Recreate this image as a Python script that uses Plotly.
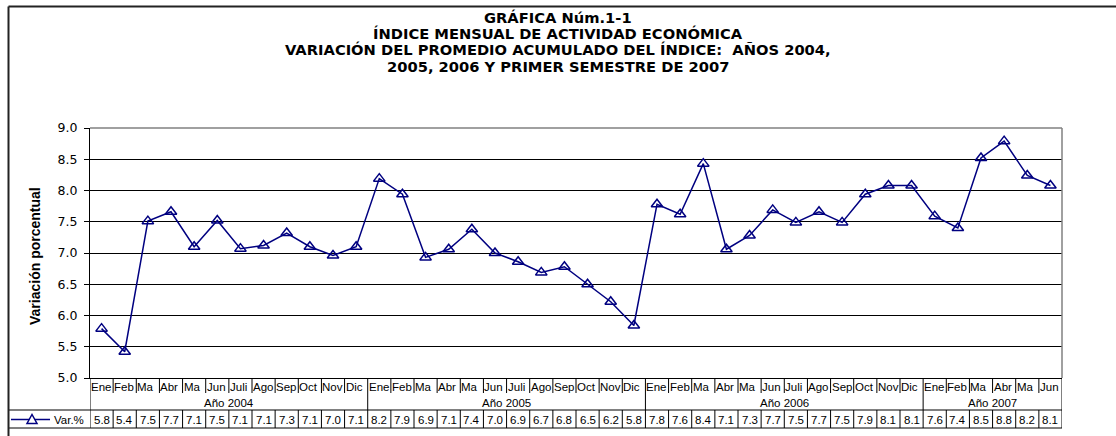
import plotly.graph_objects as go

# ---- data ----
months = ["Ene", "Feb", "Ma", "Abr", "Ma", "Jun", "Juli", "Ago", "Sep", "Oct", "Nov", "Dic"]
years = ["Año 2004", "Año 2005", "Año 2006", "Año 2007"]
months_per_year = [12, 12, 12, 6]
values_2004 = [5.79, 5.42, 7.51, 7.66, 7.10, 7.52, 7.07, 7.12, 7.32, 7.10, 6.96, 7.10]
values_2005 = [8.19, 7.94, 6.93, 7.06, 7.38, 7.00, 6.86, 6.69, 6.78, 6.50, 6.22, 5.84]
values_2006 = [7.78, 7.62, 8.43, 7.06, 7.28, 7.69, 7.49, 7.66, 7.49, 7.94, 8.08, 8.08]
values_2007 = [7.59, 7.40, 8.52, 8.79, 8.24, 8.08]
series_name = "Var.%"
title_lines = [
    "GRÁFICA Núm.1-1",
    "ÍNDICE MENSUAL DE ACTIVIDAD ECONÓMICA",
    "VARIACIÓN DEL PROMEDIO ACUMULADO DEL ÍNDICE:\u00a0 AÑOS 2004,",
    "2005, 2006 Y PRIMER SEMESTRE DE 2007",
]
y_title = "Variación porcentual"

values = values_2004 + values_2005 + values_2006 + values_2007
cat_labels = []
for n in months_per_year:
    cat_labels += months[:n]
xs = list(range(len(values)))

W, H = 1116, 436
ML, MR, MT, MB = 90, 54, 128, 58
PW, PH = W - ML - MR, H - MT - MB


def px(xp):
    return (xp - ML) / PW


def py(yp):
    return (H - MB - yp) / PH


NAVY = "#000080"
fig = go.Figure()
fig.add_trace(go.Scatter(
    x=xs, y=values, mode="lines+markers", name=series_name,
    line=dict(color=NAVY, width=1.5),
    marker=dict(symbol="triangle-up-open", size=10, color=NAVY, line=dict(width=1.5, color=NAVY)),
    cliponaxis=False, showlegend=False,
))

shapes = []
ann = []
# title, one annotation per line to control spacing
for line_txt, yc in zip(title_lines, [17, 33.5, 49.5, 66]):
    ann.append(dict(text=line_txt, x=px(558), xref="paper", xanchor="center",
                    y=py(yc), yref="paper", yanchor="middle", showarrow=False,
                    font=dict(family="DejaVu Sans", size=14.7, color="black", weight="bold")))
# y-axis title
ann.append(dict(text=y_title, x=px(35), xref="paper", xanchor="center",
                y=py(256), yref="paper", yanchor="middle", textangle=-90, showarrow=False,
                font=dict(family="Liberation Sans", size=14, color="black", weight="bold")))

# table lines
line_k = dict(color="black", width=1)
y_axis_p = py(H - MB)
y_month_bot = py(393)
y_data_top = py(410)
y_data_bot = py(428)
n = len(values)
start = 0
boundaries = []
for cnt in months_per_year:
    start += cnt
    boundaries.append(start - 0.5)
for i in range(n + 1):
    xb = i - 0.5
    if i == 0 or xb in boundaries:
        shapes.append(dict(type="line", xref="x", yref="paper", x0=xb, x1=xb,
                           y0=y_axis_p, y1=y_data_bot, line=line_k))
    else:
        shapes.append(dict(type="line", xref="x", yref="paper", x0=xb, x1=xb,
                           y0=y_axis_p, y1=y_month_bot, line=line_k))
        shapes.append(dict(type="line", xref="x", yref="paper", x0=xb, x1=xb,
                           y0=y_data_top, y1=y_data_bot, line=line_k))
shapes.append(dict(type="line", xref="paper", yref="paper", x0=px(9), x1=1, y0=y_data_top, y1=y_data_top, line=line_k))
shapes.append(dict(type="line", xref="paper", yref="paper", x0=px(8), x1=1, y0=y_data_bot, y1=y_data_bot, line=line_k))
# outer frame
frame = dict(color="#222222", width=2)
shapes.append(dict(type="line", xref="paper", yref="paper", x0=px(8.5), x1=px(W), y0=py(6.5), y1=py(6.5), line=frame))
shapes.append(dict(type="line", xref="paper", yref="paper", x0=px(8.5), x1=px(8.5), y0=py(6.5), y1=py(H), line=frame))
# plot area gray top/right border
shapes.append(dict(type="line", xref="paper", yref="paper", x0=0, x1=1, y0=1, y1=1, line=dict(color="#808080", width=1.5), layer="above"))
shapes.append(dict(type="line", xref="paper", yref="paper", x0=1, x1=1, y0=0, y1=1, line=dict(color="#808080", width=1.5), layer="above"))

# legend key (line + open triangle) in the table's first cell
ly = 419.5
shapes.append(dict(type="line", xref="paper", yref="paper", x0=px(11), x1=px(50), y0=py(ly), y1=py(ly),
                   line=dict(color=NAVY, width=1.5)))
tri = f"M {px(27)} {py(ly + 4)} L {px(37)} {py(ly + 4)} L {px(32)} {py(ly - 5)} Z"
shapes.append(dict(type="path", xref="paper", yref="paper", path=tri,
                   line=dict(color=NAVY, width=1.5), fillcolor="white"))

tfont = dict(family="Liberation Sans", size=11.5, color="black")
ann.append(dict(text=series_name, x=px(52), xref="paper", xanchor="left",
                y=py(ly), yref="paper", yanchor="middle", showarrow=False, font=tfont))
for i, (lab, v) in enumerate(zip(cat_labels, values)):
    ann.append(dict(text=lab, x=i - 0.5, xref="x", xanchor="left", xshift=-1,
                    y=py(387), yref="paper", yanchor="middle", showarrow=False, font=tfont))
    ann.append(dict(text=f"{v:.1f}", x=i, xref="x", xanchor="center",
                    y=py(ly), yref="paper", yanchor="middle", showarrow=False, font=tfont))
start = 0
for yl, cnt in zip(years, months_per_year):
    ann.append(dict(text=yl, x=start + (cnt - 1) / 2, xref="x", xanchor="center",
                    y=py(403), yref="paper", yanchor="middle", showarrow=False, font=tfont))
    start += cnt

fig.update_layout(
    width=W, height=H, margin=dict(l=ML, r=MR, t=MT, b=MB, autoexpand=False),
    paper_bgcolor="white", plot_bgcolor="white",
    showlegend=False,
    xaxis=dict(range=[-0.5, n - 0.5], showticklabels=False, ticks="", showgrid=False,
               zeroline=False, showline=True, linecolor="black", linewidth=1),
    yaxis=dict(range=[5, 9], dtick=0.5, tick0=5, tickformat=".1f", ticks="outside", ticklen=5,
               tickcolor="black", showline=True, linecolor="black", linewidth=1,
               showgrid=True, gridcolor="black", gridwidth=1, zeroline=False,
               ticklabelstandoff=4,
               tickfont=dict(family="DejaVu Sans", size=12.5, color="black")),
    shapes=shapes, annotations=ann,
)
fig.write_html("out.html", config={"displayModeBar": False},
               post_script="document.body.style.margin='0';document.body.style.overflow='hidden';")
